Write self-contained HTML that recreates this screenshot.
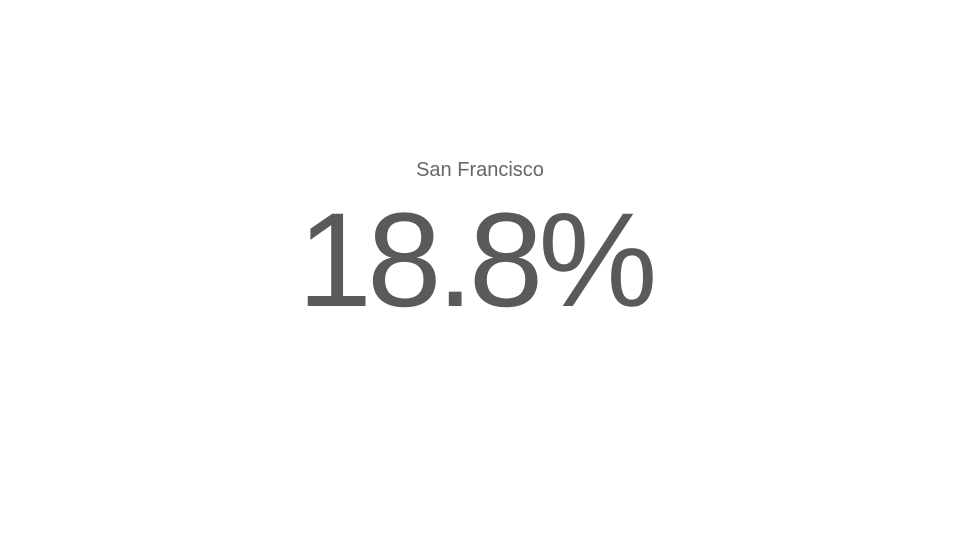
<!DOCTYPE html>
<html>
<head>
<meta charset="utf-8">
<style>
  html, body { margin: 0; padding: 0; background: #ffffff; }
  body { width: 960px; height: 540px; position: relative; overflow: hidden;
         font-family: "Liberation Sans", sans-serif; }
  .title { position: absolute; left: 0; width: 960px; top: 160px; text-align: center;
           font-size: 20px; line-height: 20px; color: #666666; }
  .value { position: absolute; left: 0; width: 960px; top: 194px; text-align: center;
           font-size: 134px; line-height: 134px; color: #5a5a5a; letter-spacing: -5px;
           font-weight: normal; text-indent: -10px; }
</style>
</head>
<body>
  <div class="title">San Francisco</div>
  <div class="value">18.8%</div>
</body>
</html>
